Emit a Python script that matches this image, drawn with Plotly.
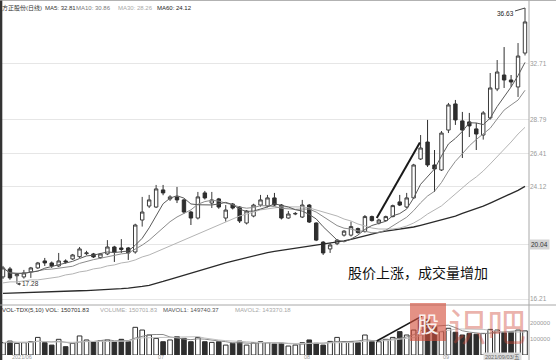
import pandas as pd
import plotly.graph_objects as go

# ---- daily bars (price) ----
opens = [17.77, 18.33, 17.85, 17.77, 18.12, 18.40, 18.89, 18.75, 18.54, 18.89,
         19.03, 19.19, 19.40, 19.38, 19.12, 19.38, 19.87, 19.80, 19.80, 19.52,
         21.76, 22.74, 22.67, 23.87, 23.24, 23.38, 23.17, 22.32, 21.90, 23.66,
         22.95, 23.24, 21.90, 22.88, 22.67, 21.55, 22.04, 22.81, 22.74, 23.31,
         22.81, 21.90, 22.18, 21.97, 22.81, 21.55, 20.21, 19.73, 20.10, 20.70,
         20.70, 21.16, 20.95, 22.00, 21.55, 21.72, 22.00, 23.03, 22.67, 23.31,
         26.04, 27.23, 25.62, 25.27, 28.07, 29.90, 28.71, 28.64, 28.15, 27.72,
         28.92, 30.95, 31.93, 31.58, 31.09, 33.47]
highs = [18.54, 18.47, 18.05, 18.26, 18.47, 18.82, 19.10, 18.85, 19.45, 19.00,
         19.38, 19.87, 19.60, 19.45, 19.45, 20.35, 19.95, 20.42, 19.87, 21.50,
         23.38, 23.52, 24.22, 24.22, 23.50, 24.08, 23.24, 22.40, 23.73, 23.80,
         23.73, 23.31, 22.81, 22.95, 22.74, 22.46, 22.90, 23.52, 23.52, 23.66,
         22.88, 22.39, 22.32, 23.17, 22.88, 21.60, 20.28, 20.14, 20.42, 21.05,
         21.65, 21.23, 22.11, 22.07, 21.85, 22.07, 22.84, 23.52, 23.66, 25.70,
         27.72, 28.78, 26.67, 28.00, 29.97, 30.18, 29.34, 29.27, 28.57, 29.40,
         32.07, 32.98, 33.89, 31.93, 34.17, 36.63]
lows = [17.63, 17.57, 17.28, 17.65, 17.70, 18.33, 18.54, 18.40, 18.47, 18.70,
        18.96, 19.10, 19.30, 19.10, 19.05, 19.30, 18.82, 19.45, 18.96, 19.40,
        21.30, 22.60, 22.60, 23.50, 23.10, 22.95, 22.20, 21.41, 21.80, 23.20,
        22.60, 22.55, 21.65, 22.50, 21.55, 21.45, 21.95, 22.70, 22.65, 22.74,
        21.80, 21.85, 22.10, 21.90, 21.55, 20.28, 19.31, 19.45, 20.00, 20.60,
        20.60, 20.80, 20.88, 21.65, 21.45, 21.65, 21.95, 22.74, 22.60, 23.24,
        25.97, 25.48, 23.73, 25.20, 27.86, 28.43, 26.11, 27.58, 26.67, 27.40,
        28.80, 30.80, 31.02, 31.10, 30.39, 33.30]
closes = [18.40, 17.70, 17.95, 18.05, 18.40, 18.75, 18.75, 18.54, 18.89, 18.82,
          19.31, 19.73, 19.45, 19.17, 19.38, 19.87, 19.52, 19.70, 19.45, 21.41,
          22.32, 23.17, 23.94, 23.66, 23.38, 23.17, 22.32, 21.90, 23.38, 23.31,
          23.17, 22.67, 22.46, 22.60, 21.69, 22.39, 22.81, 23.17, 23.31, 22.81,
          21.90, 22.18, 22.22, 22.81, 21.62, 20.35, 19.45, 20.01, 20.35, 20.98,
          21.30, 20.88, 22.00, 21.72, 21.76, 22.00, 22.77, 22.81, 23.31, 25.62,
          26.81, 25.62, 25.34, 27.86, 29.83, 28.78, 28.07, 28.36, 27.79, 29.27,
          31.02, 32.14, 31.58, 31.44, 33.26, 35.65]
volumes = [77000, 87000, 73000, 77000, 83000, 110000, 77000, 62000, 98000, 52000,
           73000, 119000, 94000, 83000, 90000, 94000, 83000, 98000, 83000, 173000,
           156000, 125000, 104000, 83000, 94000, 115000, 104000, 83000, 110000, 83000,
           79000, 83000, 62000, 73000, 87000, 62000, 77000, 83000, 77000, 69000,
           73000, 56000, 62000, 77000, 94000, 73000, 62000, 85000, 110000, 83000,
           83000, 77000, 125000, 85000, 83000, 98000, 110000, 146000, 125000, 156000,
           219000, 223000, 177000, 146000, 167000, 142000, 125000, 135000, 130000, 135000,
           160000, 156000, 140000, 146000, 156000, 150701.83]

# ---- long moving averages (price) ----
ma30 = [17.35, 17.42, 17.42, 17.49, 17.56, 17.56, 17.63, 17.70, 17.77, 17.91,
        17.98, 18.12, 18.19, 18.33, 18.40, 18.54, 18.61, 18.75, 18.82, 18.96,
        19.17, 19.31, 19.52, 19.73, 19.94, 20.15, 20.36, 20.57, 20.78, 20.99,
        21.20, 21.41, 21.62, 21.83, 22.04, 22.18, 22.32, 22.47, 22.54, 22.61,
        22.68, 22.68, 22.68, 22.68, 22.61, 22.47, 22.32, 22.18, 22.04, 21.83,
        21.69, 21.48, 21.34, 21.20, 21.13, 21.13, 21.13, 21.20, 21.34, 21.55,
        21.83, 22.18, 22.47, 22.75, 23.17, 23.59, 24.01, 24.43, 24.78, 25.20,
        25.69, 26.18, 26.67, 27.23, 27.79, 28.26]
ma60 = [16.62, 16.64, 16.65, 16.67, 16.69, 16.70, 16.72, 16.74, 16.75, 16.77,
        16.78, 16.80, 16.81, 16.83, 16.85, 16.88, 16.91, 16.95, 16.99, 17.03,
        17.10, 17.18, 17.30, 17.45, 17.60, 17.75, 17.90, 18.05, 18.19, 18.33,
        18.47, 18.61, 18.75, 18.88, 19.01, 19.14, 19.27, 19.38, 19.48, 19.56,
        19.63, 19.70, 19.77, 19.84, 19.91, 19.98, 20.05, 20.12, 20.20, 20.29,
        20.41, 20.54, 20.68, 20.80, 20.90, 20.98, 21.05, 21.12, 21.19, 21.27,
        21.39, 21.52, 21.62, 21.75, 21.89, 22.04, 22.22, 22.38, 22.54, 22.74,
        22.95, 23.16, 23.38, 23.60, 23.84, 24.12]

# ---- axis labels ----
price_ticks = [32.71, 28.79, 26.41, 24.12, 20.04, 16.21]
vol_ticks = [100000, 200000]
month_pos = [1, 22, 43, 63]
month_labels = ["2021/06", "07", "08", "09"]
stock_name = "方正股份(日线)"
cursor_date = "2021/09/03/五"
cursor_price = 20.04
note_text = "股价上涨，成交量增加"

n = len(closes)
idx = list(range(n))
close_s = pd.Series(closes)
vol_s = pd.Series(volumes)
ma5 = close_s.rolling(5, min_periods=1).mean()
ma10 = close_s.rolling(10, min_periods=1).mean()
mavol5 = vol_s.rolling(5, min_periods=1).mean()
mavol10 = vol_s.rolling(10, min_periods=1).mean()
low_i = min(range(n), key=lambda i: lows[i])
high_i = max(range(n), key=lambda i: highs[i])

W, H = 556, 360
ML, MR = 0, 27
PW = W - ML - MR


def px_x(px):
    return px / PW


def px_y(py):
    return 1 - py / H


DARK = "#2e2e2e"
FONT = "Liberation Sans, Noto Sans CJK SC, sans-serif"
CJK = "Noto Sans CJK SC, sans-serif"

fig = go.Figure()

# MA lines under the candles
fig.add_trace(go.Scatter(x=idx, y=ma60, mode="lines", line=dict(color="#2a2a2a", width=1.3),
                         xaxis="x", yaxis="y", hoverinfo="skip"))
fig.add_trace(go.Scatter(x=idx, y=ma30, mode="lines", line=dict(color="#b4b4b4", width=1),
                         xaxis="x", yaxis="y", hoverinfo="skip"))
fig.add_trace(go.Scatter(x=idx, y=ma10, mode="lines", line=dict(color="#8c8c8c", width=1),
                         xaxis="x", yaxis="y", hoverinfo="skip"))
fig.add_trace(go.Scatter(x=idx, y=ma5, mode="lines", line=dict(color="#5a5a5a", width=1),
                         xaxis="x", yaxis="y", hoverinfo="skip"))

fig.add_trace(go.Candlestick(
    x=idx, open=opens, high=highs, low=lows, close=closes,
    increasing=dict(line=dict(color="#3c3c3c", width=1), fillcolor="#ffffff"),
    decreasing=dict(line=dict(color=DARK, width=1), fillcolor=DARK),
    whiskerwidth=0, xaxis="x", yaxis="y"))

# volume panel
bar_fill = ["#ffffff" if c >= o else DARK for o, c in zip(opens, closes)]
fig.add_trace(go.Bar(x=idx, y=volumes, width=0.66,
                     marker=dict(color=bar_fill, line=dict(color=DARK, width=1)),
                     xaxis="x2", yaxis="y2"))
fig.add_trace(go.Scatter(x=idx, y=mavol5, mode="lines", line=dict(color="#8a8a8a", width=1),
                         xaxis="x2", yaxis="y2", hoverinfo="skip"))
fig.add_trace(go.Scatter(x=idx, y=mavol10, mode="lines", line=dict(color="#c0c0c0", width=1),
                         xaxis="x2", yaxis="y2", hoverinfo="skip"))

xr = [-3 / 6.96, (PW - 3) / 6.96]
fig.update_layout(
    width=W, height=H, margin=dict(l=ML, r=MR, t=0, b=0),
    paper_bgcolor="white", plot_bgcolor="white", showlegend=False,
    font=dict(family=FONT, size=7, color="#888"),
    xaxis=dict(domain=[0, 1], range=xr, visible=False, anchor="y",
               rangeslider=dict(visible=False)),
    xaxis2=dict(domain=[0, 1], range=xr, visible=False, anchor="y2", matches="x"),
    yaxis=dict(domain=[px_y(305), 1], range=[15.80, 37.19], side="right",
               tickvals=price_ticks, ticktext=[f"{v:.2f}" for v in price_ticks],
               tickfont=dict(size=6.5, color="#9a9a9a"), ticks="",
               showgrid=True, gridcolor="#e6e6e6", gridwidth=1, zeroline=False),
    yaxis2=dict(domain=[px_y(355), px_y(307)], range=[0, 300000], side="right",
                tickvals=vol_ticks, ticktext=[str(v) for v in vol_ticks],
                tickfont=dict(size=6, color="#9a9a9a"), ticks="",
                showgrid=False, zeroline=False),
    bargap=0.3,
)

shapes = [
    dict(type="line", xref="paper", yref="paper", x0=0.002, x1=0.002, y0=0, y1=1,
         line=dict(color="#333", width=2.5)),
    dict(type="line", xref="paper", yref="paper", x0=0, x1=W / PW, y0=1, y1=1,
         line=dict(color="#999", width=1.5)),
    dict(type="line", xref="paper", yref="paper", x0=1, x1=1, y0=0, y1=1,
         line=dict(color="#a8a8a8", width=1)),
    dict(type="line", xref="paper", yref="paper", x0=0, x1=W / PW, y0=px_y(305), y1=px_y(305),
         line=dict(color="#a8a8a8", width=1)),
    # hand-drawn trend strokes
    dict(type="line", xref="x", yref="y", x0=53.7, y0=21.9, x1=59.9, y1=27.2,
         line=dict(color="#1a1a1a", width=2)),
    dict(type="line", xref="x2", yref="y2", x0=53.7, y0=87500, x1=60.2, y1=243000,
         line=dict(color="#1a1a1a", width=1.6)),
    # watermark badge
    dict(type="rect", xref="paper", yref="paper", x0=px_x(410), x1=px_x(446),
         y0=px_y(341), y1=px_y(303), fillcolor="rgba(212,78,58,0.62)", line=dict(width=0),
         layer="above"),
]
fig.update_layout(shapes=shapes)

ann = []
# title row
title_parts = [
    (0, stock_name, "#333"),
    (43, f"MA5: {ma5.iloc[-1]:.2f}", "#333"),
    (74, f"MA10: {ma10.iloc[-1]:.2f}", "#7a7a7a"),
    (116, f"MA30: {ma30[-1]:.2f}", "#a8a8a8"),
    (155, f"MA60: {ma60[-1]:.2f}", "#222"),
]
for x0, t, c in title_parts:
    ann.append(dict(xref="paper", yref="paper", x=px_x(x0), y=px_y(8), text=t,
                    showarrow=False, xanchor="left", yanchor="middle",
                    font=dict(size=6, color=c, family=FONT)))
# volume header
vol_parts = [
    (0, f"VOL-TDX(5,10) VOL: {volumes[-1]:.2f}", "#333"),
    (98, f"VOLUME: {volumes[-1]:.2f}", "#a8a8a8"),
    (161, f"MAVOL1: {mavol5.iloc[-1]:.2f}", "#555"),
    (233, f"MAVOL2: {mavol10.iloc[-1]:.2f}", "#a8a8a8"),
]
for x0, t, c in vol_parts:
    ann.append(dict(xref="paper", yref="paper", x=px_x(x0), y=px_y(310), text=t,
                    showarrow=False, xanchor="left", yanchor="middle",
                    font=dict(size=6, color=c, family=FONT)))
# extreme price labels
ann.append(dict(x=high_i, y=highs[high_i], xref="x", yref="y", text=f"{highs[high_i]:.2f}",
                showarrow=True, arrowhead=0, arrowwidth=1, arrowcolor="#444",
                ax=-20, ay=6, font=dict(size=6.5, color="#222", family=FONT)))
ann.append(dict(x=low_i, y=lows[low_i], xref="x", yref="y", text=f"{lows[low_i]:.2f}",
                showarrow=True, arrowhead=2, arrowsize=0.6, arrowwidth=1, arrowcolor="#444",
                ax=14, ay=0, font=dict(size=6.5, color="#333", family=FONT)))
# cursor price box on the right axis
ann.append(dict(xref="paper", yref="y", x=1.0, y=cursor_price, text=f"{cursor_price:.2f}",
                showarrow=False, xanchor="left", yanchor="middle", bgcolor="#d4d4d4",
                borderpad=1, font=dict(size=6.5, color="#333", family=FONT)))
# note
ann.append(dict(xref="paper", yref="paper", x=px_x(418), y=px_y(272), text=note_text,
                showarrow=False, xanchor="center", yanchor="middle",
                font=dict(size=14, color="#111", family=CJK)))
# watermark
ann.append(dict(xref="paper", yref="paper", x=px_x(428), y=px_y(322), text="股",
                showarrow=False, xanchor="center", yanchor="middle",
                font=dict(size=22, color="rgba(255,255,255,0.9)", family=CJK)))
ann.append(dict(xref="paper", yref="paper", x=px_x(487), y=px_y(324), text="识吧",
                showarrow=False, xanchor="center", yanchor="middle",
                font=dict(size=39, color="rgba(206,70,52,0.42)", family=CJK)))
# bottom date labels
for p, lab in zip(month_pos, month_labels):
    ann.append(dict(xref="x2", yref="paper", x=p, y=px_y(357), text=lab, showarrow=False,
                    xanchor="left", yanchor="middle", font=dict(size=5.5, color="#999", family=FONT)))
ann.append(dict(xref="paper", yref="paper", x=px_x(502), y=px_y(357), text=cursor_date,
                showarrow=False, xanchor="center", yanchor="middle", bgcolor="#dcdcdc",
                font=dict(size=5.5, color="#666", family=FONT)))
fig.update_layout(annotations=ann)

fig.write_html("out.html")
